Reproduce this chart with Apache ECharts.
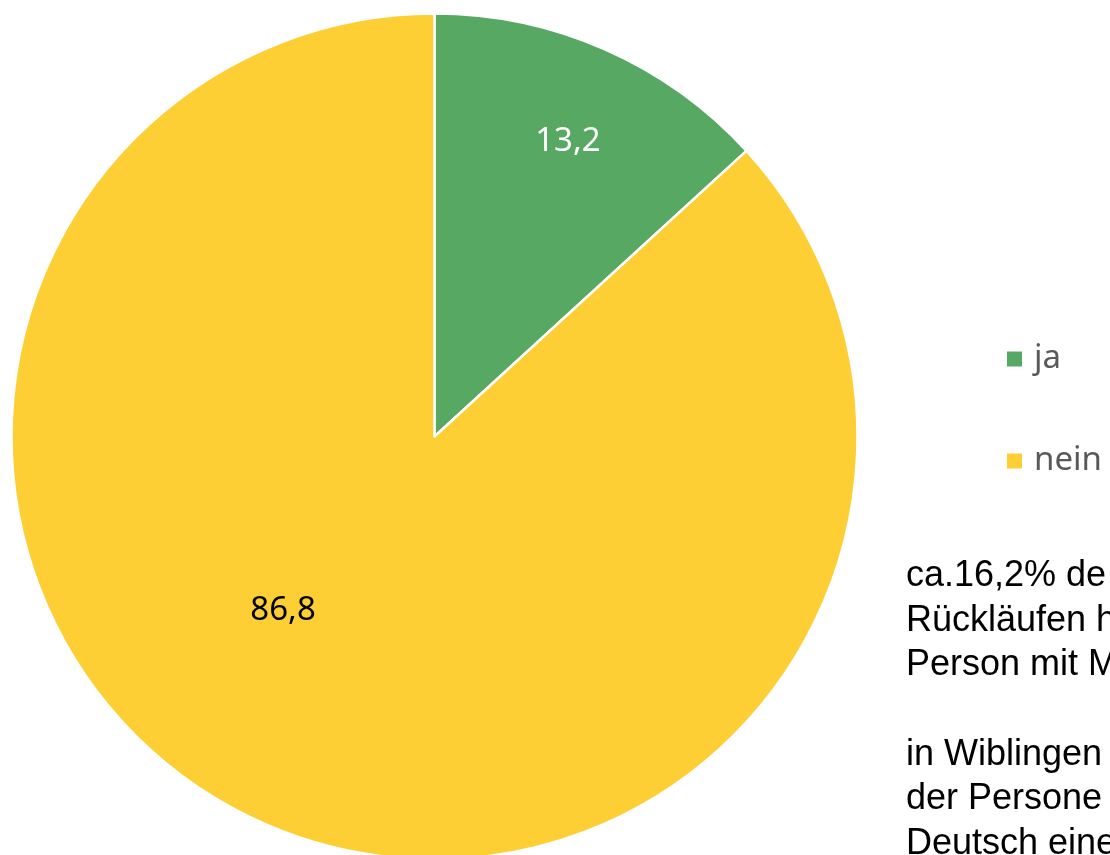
<!DOCTYPE html>
<html>
<head>
<meta charset="utf-8">
<script src="https://cdn.jsdelivr.net/npm/echarts@6/dist/echarts.min.js"></script>
<style>html,body{margin:0;padding:0;background:#fff;}#c{width:1110px;height:855px;}</style>
</head>
<body>
<div id="c"></div>
<script>
const categories = ['ja', 'nein'];
const values = [13.2, 86.8];
const labelTexts = ['13,2', '86,8'];
const noteLines = ['ca.16,2% de', 'Rückläufen h', 'Person mit M', '', 'in Wiblingen', 'der Persone', 'Deutsch eine'];

const colors = ['#57A862', '#FDCF35'];
const labelColors = ['#ffffff', '#000000'];
const labelOffsets = [[47, -99], [-65, -22]];

const chart = echarts.init(document.getElementById('c'), null, {renderer: 'canvas'});
chart.setOption({
  animation: false,
  backgroundColor: '#ffffff',
  legend: {
    orient: 'vertical',
    left: 1000,
    top: 334,
    itemWidth: 17,
    itemHeight: 17,
    itemGap: 62,
    icon: 'rect',
    data: categories,
    textStyle: {fontFamily: 'Noto Sans', fontSize: 33, color: '#595959', lineHeight: 40, padding: [0, 0, 0, 6]}
  },
  series: [{
    type: 'pie',
    center: [434.5, 436.5],
    radius: [0, 423],
    startAngle: 90,
    clockwise: true,
    avoidLabelOverlap: false,
    itemStyle: {borderColor: '#ffffff', borderWidth: 2.5},
    label: {show: true, position: 'inside', fontFamily: 'Noto Sans', fontSize: 33},
    labelLine: {show: false},
    emphasis: {disabled: true},
    data: categories.map((c, i) => ({
      name: c,
      value: values[i],
      itemStyle: {color: colors[i]},
      label: {formatter: labelTexts[i], color: labelColors[i], offset: labelOffsets[i]}
    }))
  }],
  graphic: [{
    type: 'text',
    left: 906,
    top: 554,
    style: {
      text: noteLines.join('\n'),
      font: '36px "Liberation Sans", Arial, sans-serif',
      lineHeight: 44.6,
      fill: '#000000'
    }
  }]
});
</script>
</body>
</html>
